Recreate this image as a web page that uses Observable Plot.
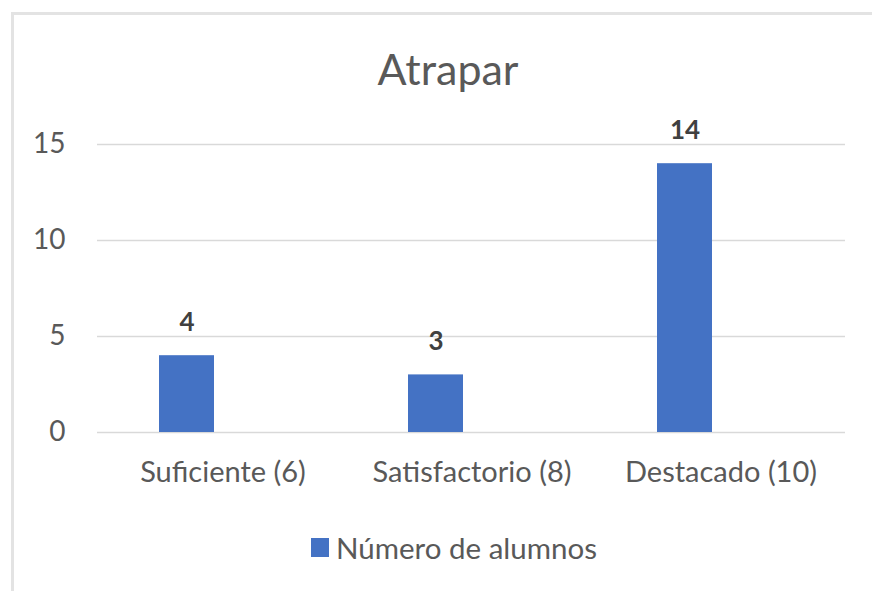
<!DOCTYPE html>
<html><head><meta charset="utf-8">
<script src="https://cdn.jsdelivr.net/npm/d3@7"></script>
<script src="https://cdn.jsdelivr.net/npm/@observablehq/plot@0.6"></script>
<style>
html,body{margin:0;padding:0;background:#fff;overflow:hidden;width:872px;height:591px;}
#frame{position:absolute;left:11px;top:12px;width:900px;height:620px;border-left:3px solid #e3e3e3;border-top:3px solid #e3e3e3;pointer-events:none;z-index:2;box-sizing:border-box;}
#title{height:110px;box-sizing:border-box;padding-top:48px;padding-left:24px;text-align:center;font-family:Lato,sans-serif;font-size:43px;line-height:42px;color:#595959;}
#chart svg{display:block;}
#legend{height:74px;display:flex;align-items:center;justify-content:center;padding-left:36px;box-sizing:border-box;font-family:Lato,sans-serif;font-size:29.5px;color:#595959;}
#legend .sw{width:18px;height:19px;background:#4472C4;margin-right:7px;}
</style>
</head><body>
<div id="frame"></div>
<div id="title"></div>
<div id="chart"></div>
<div id="legend"><span class="sw"></span><span id="legtext"></span></div>
<script>
const chartTitle = "Atrapar";
const categories = ["Suficiente (6)", "Satisfactorio (8)", "Destacado (10)"];
const values = [4, 3, 14];
const yTicks = [0, 5, 10, 15];
const seriesName = "Número de alumnos";
const barColor = "#4472C4";

const data = categories.map((c, i) => ({categoria: c, alumnos: values[i]}));

document.getElementById("title").textContent = chartTitle;
document.getElementById("legtext").textContent = seriesName;

const chart = Plot.plot({
  width: 872,
  height: 400,
  marginLeft: 97,
  marginRight: 27,
  marginTop: 34,
  marginBottom: 78,
  style: {fontFamily: "Lato, sans-serif", background: "transparent"},
  x: {domain: categories, padding: 0, label: null},
  y: {domain: [0, 15], ticks: yTicks, label: null},
  marks: [
    Plot.ruleY(yTicks, {stroke: "#d9d9d9", strokeWidth: 1.5}),
    Plot.barY(data, {x: "categoria", y: "alumnos", fill: barColor, insetLeft: 61, insetRight: 133}),
    Plot.text(data, {x: "categoria", y: "alumnos", text: d => String(d.alumnos), dx: -36, dy: -33, fontSize: 26, fontWeight: "bold", fill: "#404040"}),
    Plot.axisX({tickSize: 0, tickPadding: 29, fontSize: 29, fill: "#595959", label: null}),
    Plot.axisY({ticks: yTicks, tickSize: 0, tickPadding: 32, fontSize: 28, fill: "#595959", label: null})
  ]
});
document.getElementById("chart").append(chart);
</script>
</body></html>
